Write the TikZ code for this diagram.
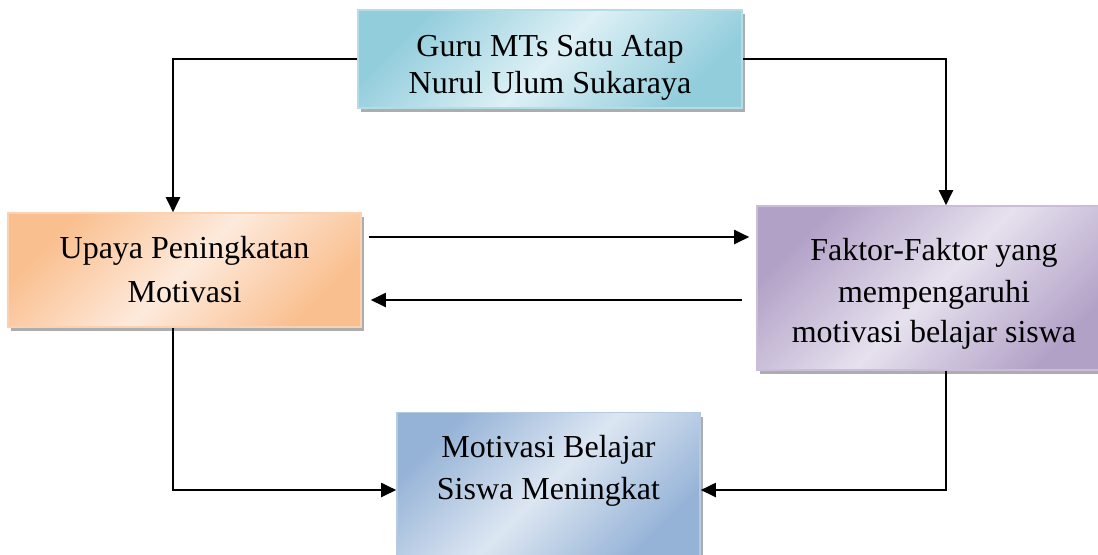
\documentclass[tikz,border=0pt]{standalone}
\usepackage{fontspec}
\setmainfont{Liberation Serif}
\usetikzlibrary{arrows.meta,
  calc,
  positioning,
  shadows
}
\definecolor{cyanD}{HTML}{92CDDC}
\definecolor{cyanL}{HTML}{DDF0F5}
\definecolor{orangeD}{HTML}{FABF8F}
\definecolor{orangeL}{HTML}{FDEADC}
\definecolor{lilacD}{HTML}{B2A1C7}
\definecolor{lilacL}{HTML}{E6E1EE}
\definecolor{blueD}{HTML}{95B3D7}
\definecolor{blueL}{HTML}{DCE6F2}
\tikzset{boxstyle/.style 2 args={draw=#1!70!white, line width=0.8pt,
  left color=#1, right color=#1, middle color=#2, shading angle=45,
  drop shadow={shadow xshift=1.6pt, shadow yshift=-2pt, fill=gray!80, opacity=0.8},
  align=center, inner sep=2pt, font=\fontsize{16}{20}\selectfont}}
\tikzset{arr/.style={line width=1pt, -{Triangle[length=7.5pt,width=7pt]}}}

\begin{document}
\begin{tikzpicture}[x=0.5pt,y=-0.5pt]
  \useasboundingbox (0,0) rectangle (1098,554);

  \node[boxstyle={cyanD}{cyanL}, minimum width=192pt, minimum height=49pt] (guru) at (550,59)
    {\rule{0pt}{19pt}Guru MTs Satu Atap\\[-1.5pt]Nurul Ulum Sukaraya};
  \node[boxstyle={orangeD}{orangeL}, minimum width=176.5pt, minimum height=57pt] (upaya) at (184.5,270)
    {Upaya Peningkatan\\[2pt]Motivasi};
  \node[boxstyle={lilacD}{lilacL}, minimum width=177pt, minimum height=82pt] (faktor) at (934,288)
    {\rule{0pt}{17pt}Faktor-Faktor yang\\[1pt]mempengaruhi\\[0pt]motivasi belajar siswa};
  \node[boxstyle={blueD}{blueL}, minimum width=151.5pt, minimum height=71.5pt] (motivasi) at (548.5,484)
    {Motivasi Belajar\\[1pt]\rule[-17pt]{0pt}{0pt}Siswa Meningkat};

  % dari guru ke dua kotak tengah
  \draw[arr] (guru.west) -| ([xshift=-5.75pt]upaya.north);
  \draw[arr] (guru.east) -| ([xshift=6pt]faktor.north);

  % hubungan timbal balik
  \draw[arr, shorten <=3.5pt, shorten >=3.5pt] ([yshift=16.5pt]upaya.east) -- ([yshift=16.5pt]upaya.east -| faktor.west);
  \draw[arr, shorten <=7pt, shorten >=4.5pt] ([yshift=-15pt]upaya.east -| faktor.west) -- ([yshift=-15pt]upaya.east);

  % menuju motivasi belajar
  \draw[arr] ([xshift=-5.75pt]upaya.south) |- ([yshift=-3pt]motivasi.west);
  \draw[arr] ([xshift=6pt]faktor.south) |- ([yshift=-3pt]motivasi.east);
\end{tikzpicture}
\end{document}
